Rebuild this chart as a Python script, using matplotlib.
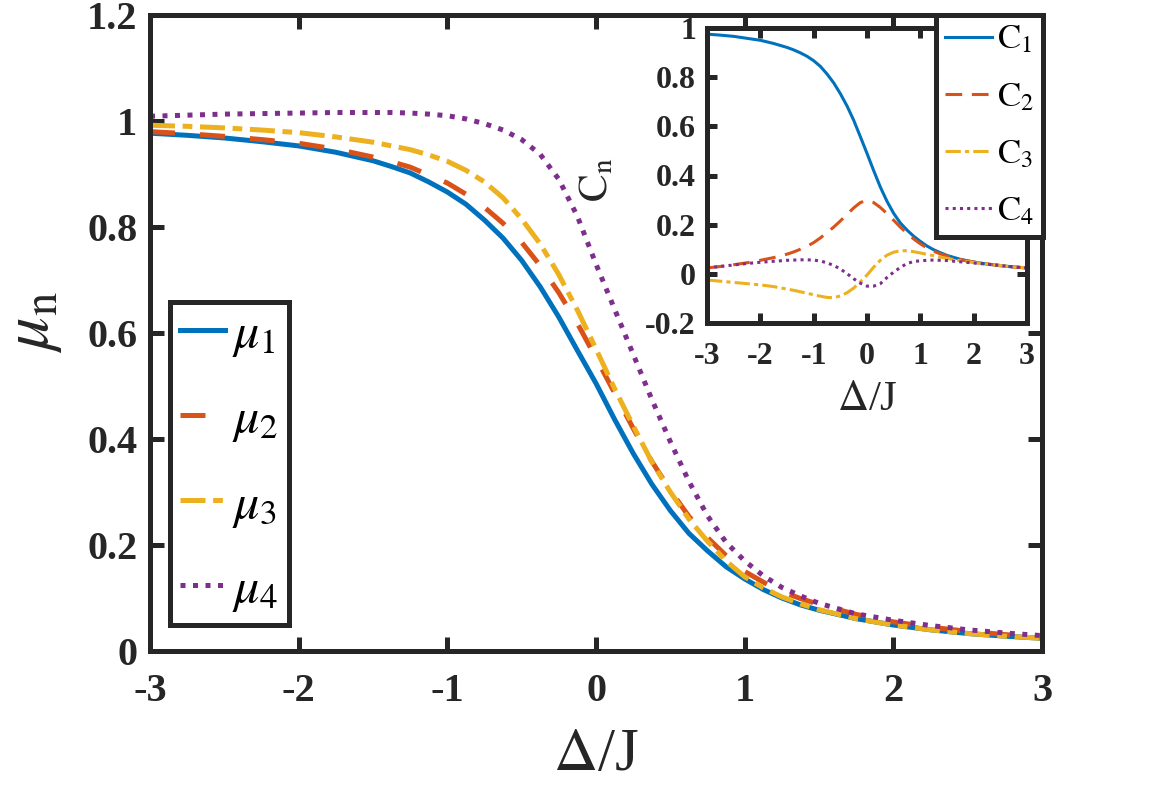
import numpy as np
import matplotlib
matplotlib.use("Agg")
import matplotlib.pyplot as plt

plt.rcParams['font.family'] = ['Liberation Serif', 'DejaVu Serif']
plt.rcParams['mathtext.fontset'] = 'stix'
plt.rcParams['lines.scale_dashes'] = False

# ---------------- data ----------------
delta = [-3.0, -2.75, -2.5, -2.25, -2.0, -1.75, -1.5, -1.375, -1.25, -1.125, -1.0, -0.875, -0.75,
         -0.625, -0.5, -0.375, -0.25, -0.125, 0.0, 0.125, 0.25, 0.375, 0.5, 0.625, 0.75,
         0.875, 1.0, 1.125, 1.25, 1.375, 1.5, 1.75, 2.0, 2.25, 2.5, 2.75, 3.0]

mu1 = [0.977, 0.973, 0.968, 0.961, 0.953, 0.941, 0.925, 0.914, 0.902, 0.885, 0.866, 0.843, 0.813,
       0.779, 0.737, 0.687, 0.630, 0.567, 0.505, 0.437, 0.373, 0.315, 0.265, 0.222, 0.189,
       0.159, 0.136, 0.116, 0.100, 0.087, 0.077, 0.061, 0.049, 0.040, 0.033, 0.028, 0.024]
mu2 = [0.980, 0.976, 0.971, 0.965, 0.958, 0.947, 0.932, 0.923, 0.913, 0.898, 0.883, 0.862, 0.837,
       0.807, 0.771, 0.727, 0.676, 0.618, 0.553, 0.487, 0.420, 0.358, 0.303, 0.254, 0.214,
       0.180, 0.150, 0.130, 0.112, 0.099, 0.088, 0.069, 0.055, 0.045, 0.037, 0.031, 0.026]
mu3 = [0.992, 0.990, 0.987, 0.983, 0.978, 0.970, 0.960, 0.953, 0.946, 0.936, 0.924, 0.907, 0.885,
       0.855, 0.815, 0.768, 0.710, 0.643, 0.570, 0.495, 0.425, 0.357, 0.300, 0.249, 0.207,
       0.170, 0.140, 0.119, 0.102, 0.089, 0.078, 0.061, 0.049, 0.040, 0.033, 0.028, 0.024]
mu4 = [1.009, 1.011, 1.013, 1.014, 1.015, 1.016, 1.016, 1.016, 1.015, 1.013, 1.010, 1.004, 0.995,
       0.983, 0.965, 0.937, 0.890, 0.820, 0.730, 0.645, 0.560, 0.475, 0.395, 0.320, 0.255,
       0.205, 0.170, 0.142, 0.120, 0.104, 0.090, 0.070, 0.058, 0.048, 0.040, 0.034, 0.029]

c1 = [0.975, 0.971, 0.966, 0.958, 0.950, 0.937, 0.921, 0.911, 0.899, 0.885, 0.867, 0.844, 0.813,
      0.777, 0.733, 0.683, 0.625, 0.558, 0.490, 0.420, 0.353, 0.295, 0.246, 0.207, 0.178,
      0.153, 0.132, 0.113, 0.098, 0.086, 0.075, 0.059, 0.048, 0.040, 0.033, 0.028, 0.024]
c2 = [0.024, 0.030, 0.037, 0.045, 0.055, 0.066, 0.080, 0.089, 0.100, 0.112, 0.127, 0.146, 0.168,
      0.190, 0.215, 0.242, 0.268, 0.290, 0.298, 0.290, 0.270, 0.245, 0.218, 0.190, 0.165,
      0.142, 0.122, 0.106, 0.092, 0.081, 0.072, 0.058, 0.048, 0.040, 0.034, 0.028, 0.024]
c3 = [-0.025, -0.030, -0.035, -0.040, -0.045, -0.052, -0.062, -0.067, -0.073, -0.079, -0.085, -0.091, -0.096,
      -0.097, -0.090, -0.077, -0.058, -0.033, -0.005, 0.027, 0.055, 0.076, 0.088, 0.094, 0.094,
      0.090, 0.085, 0.079, 0.074, 0.068, 0.063, 0.053, 0.046, 0.040, 0.034, 0.028, 0.024]
c4 = [0.024, 0.030, 0.036, 0.042, 0.047, 0.051, 0.055, 0.056, 0.057, 0.057, 0.056, 0.052, 0.045,
      0.034, 0.020, 0.001, -0.020, -0.038, -0.050, -0.050, -0.040, -0.015, 0.007, 0.026, 0.042,
      0.050, 0.053, 0.055, 0.056, 0.055, 0.054, 0.049, 0.044, 0.039, 0.034, 0.028, 0.024]

main_labels = [r'$\mu_{1}$', r'$\mu_{2}$', r'$\mu_{3}$', r'$\mu_{4}$']
inset_labels = [r'$\mathrm{C}_{1}$', r'$\mathrm{C}_{2}$', r'$\mathrm{C}_{3}$', r'$\mathrm{C}_{4}$']
xticks = [-3, -2, -1, 0, 1, 2, 3]
main_yticks = [0, 0.2, 0.4, 0.6, 0.8, 1.0, 1.2]
main_yticklabels = ['0', '0.2', '0.4', '0.6', '0.8', '1', '1.2']
inset_yticks = [-0.2, 0, 0.2, 0.4, 0.6, 0.8, 1.0]
inset_yticklabels = ['-0.2', '0', '0.2', '0.4', '0.6', '0.8', '1']

colors = ['#0072BD', '#D95319', '#EDB120', '#7E2F8E']
dark = '#262626'

W, H = 1153, 786
fig = plt.figure(figsize=(W / 100, H / 100), dpi=100)

def fx(px):
    return px / W

def fy(py):
    return 1 - py / H

# ---------------- main axes ----------------
ax = fig.add_axes([fx(150), fy(651), (1042 - 150) / W, (651 - 15) / H])
main_styles = [
    dict(linestyle='-'),
    dict(linestyle=(0, (18, 18))),
    dict(linestyle=(0, (18, 5.5, 7, 5.5))),
    dict(linestyle=(0, (3.6, 5.4))),
]
for ys, c, lab, st in zip([mu1, mu2, mu3, mu4], colors, main_labels, main_styles):
    ax.plot(delta, ys, color=c, lw=3.6, label=lab, dash_capstyle='butt', **st)

ax.set_xlim(-3, 3)
ax.set_ylim(0, 1.2)
ax.set_xticks(xticks)
ax.set_xticklabels([str(t) for t in xticks])
ax.set_yticks(main_yticks)
ax.set_yticklabels(main_yticklabels)
ax.tick_params(direction='in', length=10, width=3.6, colors=dark, top=True, right=True,
               labelsize=29)
ax.tick_params(axis='y', pad=9)
ax.tick_params(axis='x', pad=16)
for lbl in ax.get_xticklabels() + ax.get_yticklabels():
    lbl.set_fontweight('bold')
for s in ax.spines.values():
    s.set_linewidth(3.6)
    s.set_color(dark)

ax.set_xlabel(r'$\Delta$/J', fontsize=44, color=dark, va='center')
ax.xaxis.set_label_coords(0.5, (651 - 755) / 636)
ax.set_ylabel(r'$\mu_{\mathrm{n}}$', fontsize=48, color=dark, va='center')
ax.yaxis.set_label_coords((33 - 150) / 892, (651 - 322) / 636)

leg = ax.legend(loc='upper left', bbox_to_anchor=(fx(170), fy(302)), bbox_transform=fig.transFigure,
                fontsize=36, handlelength=0.9, handletextpad=0.15, borderpad=0.2,
                labelspacing=0.75, borderaxespad=0, fancybox=False, framealpha=1,
                edgecolor=dark)
leg.get_frame().set_linewidth(3.6)

# ---------------- inset axes ----------------
ins = fig.add_axes([fx(707), fy(323), 320 / W, 295 / H])
inset_styles = [
    dict(linestyle='-'),
    dict(linestyle=(0, (12, 7))),
    dict(linestyle=(0, (11, 3, 3, 3))),
    dict(linestyle=(0, (2.2, 3.0))),
]
for ys, c, lab, st in zip([c1, c2, c3, c4], colors, inset_labels, inset_styles):
    ins.plot(delta, ys, color=c, lw=2.2, label=lab, dash_capstyle='butt', **st)

ins.set_xlim(-3, 3)
ins.set_ylim(-0.2, 1.0)
ins.set_xticks(xticks)
ins.set_xticklabels([str(t) for t in xticks])
ins.set_yticks(inset_yticks)
ins.set_yticklabels(inset_yticklabels)
ins.tick_params(direction='in', length=7, width=3.6, colors=dark, top=True, right=True,
                labelsize=23)
ins.tick_params(axis='y', pad=8)
ins.tick_params(axis='x', pad=14)
for lbl in ins.get_xticklabels() + ins.get_yticklabels():
    lbl.set_fontweight('bold')
for s in ins.spines.values():
    s.set_linewidth(3.6)
    s.set_color(dark)

ins.set_xlabel(r'$\Delta$/J', fontsize=31, color=dark, va='center')
ins.xaxis.set_label_coords(0.5, (323 - 400) / 295)
ins.set_ylabel(r'$\mathrm{C}_{\mathrm{n}}$', fontsize=30, color=dark, va='center')
ins.yaxis.set_label_coords((597 - 707) / 320, (323 - 180) / 295)

leg2 = ins.legend(loc='upper right', bbox_to_anchor=(fx(1043), fy(15)), bbox_transform=fig.transFigure,
                  fontsize=25, handlelength=1.35, handletextpad=0.15, borderpad=0.25,
                  labelspacing=0.7, borderaxespad=0, fancybox=False, framealpha=1,
                  edgecolor=dark)
leg2.get_frame().set_linewidth(3.6)

fig.savefig('out.png', dpi=100)
